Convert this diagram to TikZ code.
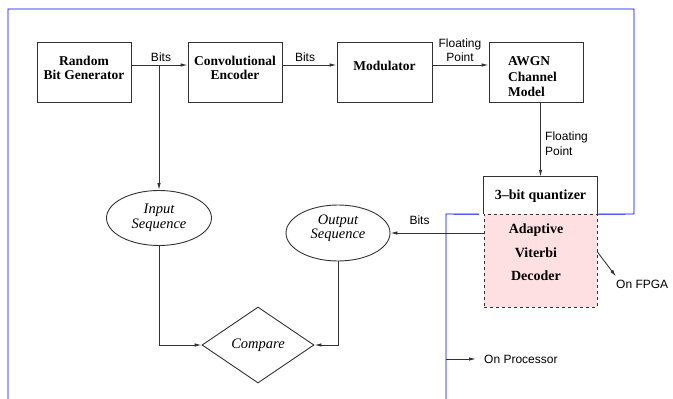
\documentclass[tikz,border=0pt]{standalone}
\usepackage{fontspec}
\setmainfont{Liberation Serif}
\setsansfont{Liberation Sans}
\usetikzlibrary{shapes.geometric,arrows.meta,calc}
\definecolor{pinkfill}{RGB}{255,224,226}
\definecolor{linegray}{RGB}{50,50,50}
\tikzset{
  box/.style={draw=linegray,line width=0.9pt,rectangle,minimum width=94pt,minimum height=60pt,inner sep=0pt},
  btxt/.style={font=\fontsize{13.5}{14}\selectfont\bfseries,align=center,inner sep=0pt},
  itxt/.style={font=\fontsize{14.5}{14.5}\selectfont\itshape,align=center,inner sep=0pt},
  stxt/.style={font=\fontsize{12}{14}\selectfont\sffamily,inner sep=0pt},
  ell/.style={draw=linegray,line width=0.9pt,ellipse,inner sep=0pt},
  arr/.style={draw=linegray,line width=0.9pt,-{Latex[length=7pt,width=3.5pt]}},
  blueline/.style={draw=blue,line width=0.9pt}
}
\begin{document}
\begin{tikzpicture}[x=1pt,y=-1pt]
\useasboundingbox (0,0) rectangle (673,399);
% boxes
\node[box] (rbg) at (84,72) {};
\node[btxt] (rbgt) at (84,68) {Random\\Bit Generator};
\node[box] (conv) at (235,72) {};
\node[btxt] (convt) at (235,68) {Convolutional\\Encoder};
\node[box,minimum width=95pt] (mod) at (384.5,72) {};
\node[btxt] (modt) at (384.5,66) {Modulator};
\node[box] (awgn) at (536,72) {};
\node[btxt,align=left,anchor=west,font=\fontsize{13.5}{15.5}\selectfont\bfseries] (awgnt) at (508,77) {AWGN\\Channel\\Model};
% decoder and quantizer
\node[rectangle,draw=linegray,dashed,fill=pinkfill,line width=0.9pt,minimum width=113pt,minimum height=93pt,inner sep=0pt] (dec) at (540.5,260.5) {};
\node[btxt,font=\fontsize{14}{23.5}\selectfont\bfseries] (dect) at (536,252.5) {Adaptive\\Viterbi\\Decoder};
\node[rectangle,minimum width=113pt,minimum height=37pt,inner sep=0pt] (qz) at (540.5,195.5) {};
\draw[linegray,line width=0.9pt] (qz.south west) -- (qz.north west) -- (qz.north east) -- (qz.south east);
\node[btxt,font=\fontsize{14}{14}\selectfont\bfseries] (qzt) at (540.5,196) {3--bit quantizer};
% ellipses and diamond
\node[ell,minimum width=105pt,minimum height=55pt] (inp) at (159,218) {};
\node[itxt] (inpt) at (159,218) {Input\\Sequence};
\node[ell,minimum width=104pt,minimum height=56pt] (out) at (338,233) {};
\node[itxt] (outt) at (338,228) {Output\\Sequence};
\node[diamond,draw=linegray,line width=0.9pt,minimum width=112pt,minimum height=76pt,inner sep=0pt] (cmp) at (258,345) {};
\node[itxt] (cmpt) at (258,345) {Compare};
% connectors
\coordinate (br) at (159,65);
\draw[arr] ([yshift=7pt]rbg.east) -- ([yshift=7pt]conv.west);
\draw[arr] (br) -- (inp.north);
\draw[arr] ([yshift=7pt]conv.east) -- ([yshift=7pt]mod.west);
\draw[arr] ([yshift=7pt]mod.east) -- ([yshift=7pt]awgn.west);
\draw[arr] (qz.north |- awgn.south) -- (qz.north);
\draw[arr] (dec.west |- out.east) -- (out.east);
\draw[arr] (inp.south) |- (cmp.west);
\draw[arr] (out.south) |- (cmp.east);
% labels
\node[stxt] (l1) at (161,57) {Bits};
\node[stxt] (l2) at (305,57) {Bits};
\node[stxt,align=center,font=\fontsize{12}{14}\selectfont\sffamily] (l3) at (460,50) {Floating\\Point};
\node[stxt,align=left,anchor=west,font=\fontsize{12}{15}\selectfont\sffamily] (l4) at (545,143.5) {Floating\\Point};
\node[stxt] (l5) at (419.5,220) {Bits};
% blue partition
\draw[blueline] (8,399) -- (8,9) -- (634,9) -- (634,214) -- ([xshift=1pt]qz.south east);
\coordinate (bl) at (446,399);
\draw[blueline] ([xshift=-5pt]qz.south west) -- (446,214) -- (bl);
% FPGA / Processor
\node[stxt,anchor=west] (fpga) at (616,284) {On FPGA};
\draw[arr] ([yshift=8.5pt]dec.east) -- ([yshift=3pt]fpga.north west);
\coordinate (pl) at (446,359);
\node[stxt,anchor=west] (proc) at (484,359) {On Processor};
\draw[arr,shorten >=8pt] (pl) -- (proc.west);
\end{tikzpicture}
\end{document}
